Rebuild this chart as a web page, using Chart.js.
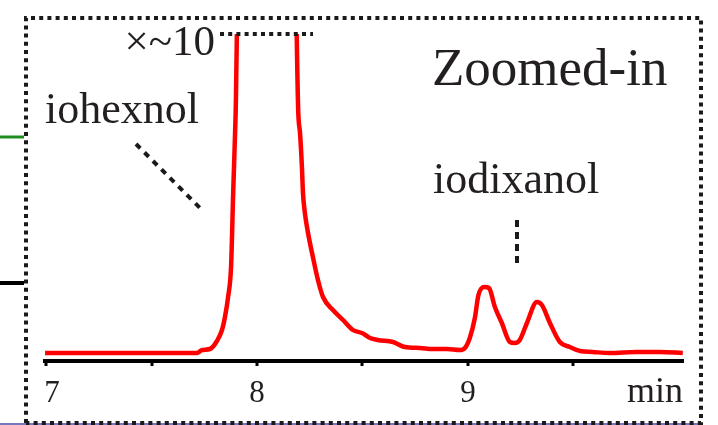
<!DOCTYPE html>
<html>
<head>
<meta charset="utf-8">
<script src="https://cdn.jsdelivr.net/npm/chart.js@4/dist/chart.umd.min.js"></script>
<style>
html,body{margin:0;padding:0;background:#fff;}
#wrap{position:relative;width:718px;height:425px;}
</style>
</head>
<body>
<div id="wrap"><canvas id="c" width="718" height="425"></canvas></div>
<script>
// ---- data (retention time in min, detector signal in arbitrary units) ----
const timeMin = [6.995, 7.716, 7.739, 7.777, 7.810, 7.834, 7.848, 7.863, 7.877, 7.882, 7.886, 7.891, 7.896, 7.900,
  8.047,
  8.194, 8.204, 8.213, 8.218, 8.227, 8.242, 8.265, 8.289, 8.313, 8.360, 8.408, 8.455, 8.498, 8.536, 8.573,
  8.645, 8.701, 8.773, 8.834, 8.900, 8.962, 8.986, 9.009, 9.033, 9.050, 9.078, 9.100, 9.128, 9.161, 9.199,
  9.223, 9.246, 9.280, 9.327, 9.351, 9.389, 9.436, 9.483, 9.531, 9.592, 9.673, 9.801, 9.910, 10.019];
const signal = [8, 8, 11, 12, 20, 31, 44, 64, 94, 128, 161, 194, 228, 261,
  3000,
  261, 228, 194, 168, 148, 128, 104, 81, 64, 51, 41, 31, 28, 23, 21,
  19, 14, 13, 12, 12, 11, 13, 23, 43, 66, 74, 73, 54, 38, 19,
  18, 21, 38, 59, 56, 38, 19, 14, 10, 9, 8, 9, 9, 8];
const tickValues = [7, 7.5, 8, 8.5, 9, 9.5];
const tickLabels = ["7", "", "8", "", "9", ""];
const axisUnit = "min";
const annotations = ["Zoomed-in", "iohexnol", "iodixanol", "\u00d7~10"];

const points = timeMin.map((t, i) => ({x: t, y: signal[i]}));
const INK = '#231f20';
const SERIF = '"Liberation Serif", "DejaVu Serif", serif';

const deco = {
  id: 'deco',
  afterDatasetsDraw(chart) {
    const ctx = chart.ctx;
    const xs = chart.scales.x;
    const ca = chart.chartArea;
    ctx.save();
    // x axis line
    ctx.strokeStyle = '#000';
    ctx.lineWidth = 4;
    ctx.beginPath();
    ctx.moveTo(ca.left - 1, ca.bottom);
    ctx.lineTo(ca.right + 1, ca.bottom);
    ctx.stroke();
    // ticks
    ctx.lineWidth = 3;
    tickValues.forEach(v => {
      const px = Math.round(xs.getPixelForValue(v));
      ctx.beginPath();
      ctx.moveTo(px, ca.bottom);
      ctx.lineTo(px, ca.bottom + 5);
      ctx.stroke();
    });
    // tick labels
    ctx.fillStyle = INK;
    ctx.font = '31px ' + SERIF;
    ctx.textBaseline = 'alphabetic';
    ctx.textAlign = 'center';
    tickValues.forEach((v, i) => {
      if (!tickLabels[i]) return;
      let px = xs.getPixelForValue(v);
      if (i === 0) px += 6;
      ctx.fillText(tickLabels[i], px, ca.bottom + 41);
    });
    ctx.font = '36px ' + SERIF;
    ctx.textAlign = 'right';
    ctx.fillText(axisUnit, ca.right, ca.bottom + 41);

    // annotations text
    ctx.textAlign = 'left';
    ctx.font = '53px ' + SERIF;
    ctx.fillText(annotations[0], 432, 85);
    ctx.font = '44px ' + SERIF;
    ctx.fillText(annotations[1], 45, 123);
    ctx.fillText(annotations[2], 433, 193);
    ctx.font = '43px ' + SERIF;
    ctx.textAlign = 'right';
    ctx.fillText(annotations[3], 215, 55);

    // dotted line at clipped peak top
    ctx.strokeStyle = '#1a1a1a';
    ctx.lineWidth = 4;
    ctx.setLineDash([4, 4.2]);
    ctx.beginPath();
    ctx.moveTo(220, ca.top);
    ctx.lineTo(313, ca.top);
    ctx.stroke();

    // diagonal dashed pointer (iohexnol)
    ctx.lineWidth = 4;
    ctx.setLineDash([6, 6]);
    ctx.beginPath();
    ctx.moveTo(136, 144);
    ctx.lineTo(202, 210);
    ctx.stroke();

    // vertical dashed pointer (iodixanol)
    ctx.lineWidth = 4;
    ctx.setLineDash([7, 5]);
    ctx.beginPath();
    ctx.moveTo(517, 220);
    ctx.lineTo(517, 264);
    ctx.stroke();

    // blue line at bottom
    ctx.setLineDash([]);
    ctx.strokeStyle = '#4a4aa8';
    ctx.lineWidth = 1.5;
    ctx.beginPath();
    ctx.moveTo(0, 424);
    ctx.lineTo(702, 424);
    ctx.stroke();

    // dotted frame
    ctx.strokeStyle = '#1a1a1a';
    ctx.lineWidth = 4;
    ctx.setLineDash([4, 4.2]);
    ctx.beginPath();
    ctx.moveTo(26, 423);
    ctx.lineTo(26, 18);
    ctx.lineTo(701, 18);
    ctx.lineTo(701, 423);
    ctx.lineTo(26, 423);
    ctx.stroke();

    // lines entering from the left (from outer figure)
    ctx.setLineDash([]);
    ctx.strokeStyle = '#1e8c1e';
    ctx.lineWidth = 3;
    ctx.beginPath();
    ctx.moveTo(0, 137);
    ctx.lineTo(24, 137);
    ctx.stroke();
    ctx.strokeStyle = '#000';
    ctx.lineWidth = 4;
    ctx.beginPath();
    ctx.moveTo(0, 283);
    ctx.lineTo(24, 283);
    ctx.stroke();
    ctx.restore();
  }
};

new Chart(document.getElementById('c'), {
  type: 'line',
  data: {
    datasets: [{
      data: points,
      borderColor: '#ff0000',
      borderWidth: 4.5,
      pointRadius: 0,
      cubicInterpolationMode: 'monotone',
      fill: false,
      clip: 0
    }]
  },
  options: {
    responsive: false,
    animation: false,
    devicePixelRatio: 1,
    layout: {padding: {left: 44, right: 35, top: 34, bottom: 64}},
    plugins: {legend: {display: false}, tooltip: {enabled: false}},
    scales: {
      x: {type: 'linear', min: 6.99, max: 10.02, display: false},
      y: {type: 'linear', min: 0, max: 327, display: false}
    }
  },
  plugins: [deco]
});
</script>
</body>
</html>
